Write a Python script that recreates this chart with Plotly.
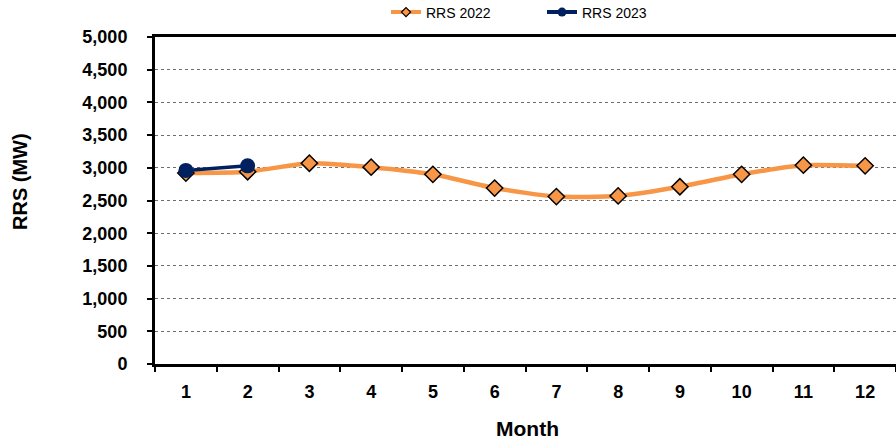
import plotly.graph_objects as go

months = list(range(1, 13))
rrs_2022 = [2920, 2940, 3070, 3010, 2900, 2690, 2560, 2570, 2710, 2900, 3040, 3030]
months_2023 = [1, 2]
rrs_2023 = [2960, 3030]

y_ticks = list(range(0, 5001, 500))
y_labels = [f'{v:,}' for v in y_ticks]

ORANGE = '#F79646'
NAVY = '#002060'

fig = go.Figure()

# data traces
fig.add_scatter(x=months, y=rrs_2022, name='RRS 2022', mode='lines+markers', showlegend=False,
                line=dict(color=ORANGE, width=4.5, shape='spline', smoothing=0.6),
                marker=dict(symbol='diamond', size=12.5, color=ORANGE,
                            line=dict(color='black', width=1.5)))
fig.add_scatter(x=months_2023, y=rrs_2023, name='RRS 2023', mode='lines+markers', showlegend=False,
                line=dict(color=NAVY, width=3.5),
                marker=dict(symbol='circle', size=15, color=NAVY))

# legend-only traces (smaller symbols like the original)
fig.add_scatter(x=[None], y=[None], name='RRS 2022', mode='lines+markers',
                line=dict(color=ORANGE, width=4),
                marker=dict(symbol='diamond', size=7, color=ORANGE,
                            line=dict(color='black', width=1.2)))
fig.add_scatter(x=[None], y=[None], name='RRS 2023', mode='lines+markers',
                line=dict(color=NAVY, width=4),
                marker=dict(symbol='circle', size=9, color=NAVY))

fig.update_layout(
    width=896, height=442,
    margin=dict(l=155, r=0, t=37, b=78, autoexpand=False),
    paper_bgcolor='white', plot_bgcolor='white',
    font=dict(family='Liberation Sans, Arial', color='black'),
    legend=dict(orientation='h', x=(386 - 155) / 741, xanchor='left', y=1.075, yanchor='middle',
                font=dict(size=14), bgcolor='rgba(0,0,0,0)',
                entrywidth=111, entrywidthmode='pixels'),
    annotations=[
        dict(text='<b>RRS (MW)</b>', textangle=-90, xref='paper', yref='paper',
             x=(20 - 155) / 741, y=(364 - 182) / 327, xanchor='center', yanchor='middle',
             showarrow=False, font=dict(size=20)),
        dict(text='<b>Month</b>', xref='paper', yref='paper',
             x=(527 - 155) / 741, y=-(428 - 364) / 327, xanchor='center', yanchor='middle',
             showarrow=False, font=dict(size=21)),
    ],
)

fig.update_xaxes(range=[0.5, 12.5], tickvals=months, ticktext=[f'<b>{m}</b>' for m in months],
                 ticks='', showgrid=False,
                 showline=True, linecolor='black', linewidth=3, mirror=True,
                 tickfont=dict(size=18), ticklabelstandoff=9,
                 minor=dict(tick0=0.5, dtick=1, ticks='outside', ticklen=5,
                            tickwidth=2, tickcolor='black', showgrid=False),
                 zeroline=False)
fig.update_yaxes(range=[0, 5000], tickvals=y_ticks, ticktext=[f'<b>{t}</b>' for t in y_labels],
                 ticks='outside', ticklen=5, tickwidth=2, tickcolor='black',
                 showline=True, linecolor='black', linewidth=3,
                 showgrid=True, gridcolor='#6e6e6e', gridwidth=1, griddash='dot',
                 tickfont=dict(size=18), ticklabelstandoff=16, zeroline=False)

# drop the default page margin so the figure sits at the window's corner
fig.write_html("out.html", config={'displayModeBar': False},
               post_script="document.body.style.margin='0';")
